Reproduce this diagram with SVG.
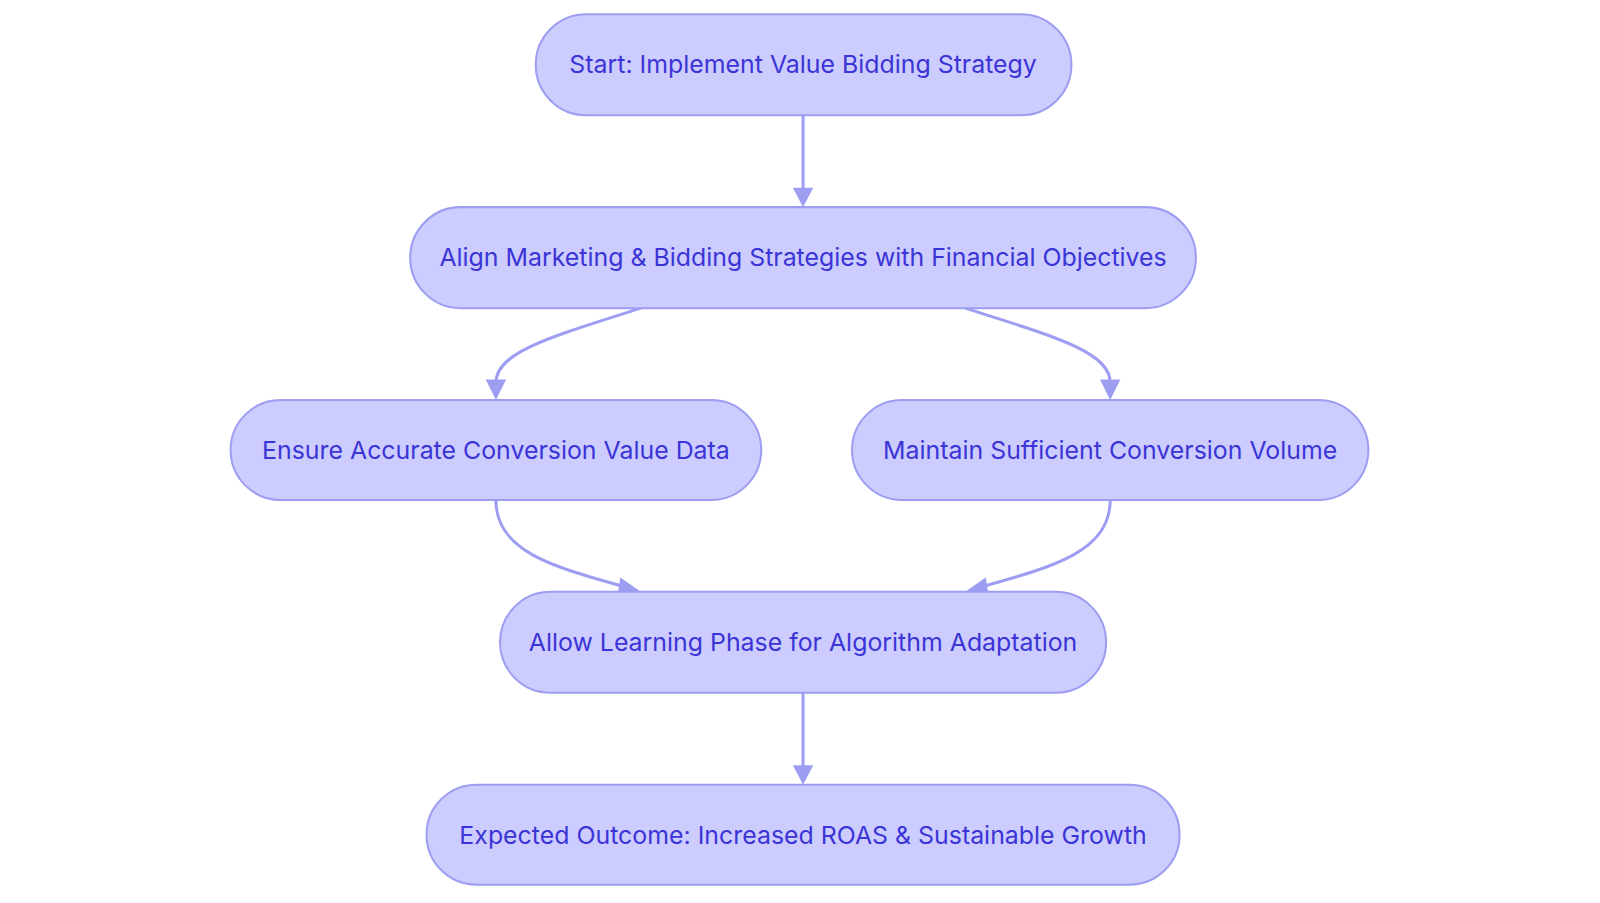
<svg xmlns="http://www.w3.org/2000/svg" width="1600" height="903" viewBox="0 0 1600 903">
<style>
.n{fill:#ccccff;stroke:#9d9df2;stroke-width:2}
.t{font-family:Inter,"Noto Sans",sans-serif;font-size:24.4px;fill:#3b34d6;text-anchor:middle;dominant-baseline:central}
.c{fill:none;stroke:#9d9df2;stroke-width:3}
.h{fill:#9d9df2}
</style>
<rect width="1600" height="903" fill="#fff"/>
<g transform="scale(1.0204)">
<g id="connectors">
<path class="c" d="M787,113V186"/>
<path class="h" d="M777,184L787,203L797,184z"/>
<path class="c" d="M628,302C540,330 486,345 486,375"/>
<path class="h" d="M476,372L486,392L496,372z"/>
<path class="c" d="M946,302C1034,330 1088,345 1088,375"/>
<path class="h" d="M1078,372L1088,392L1098,372z"/>
<path class="c" d="M486,490C486,540 540,555 612,575"/>
<path class="h" d="M608,566L628,580L605,584z"/>
<path class="c" d="M1088,490C1088,540 1034,555 962,575"/>
<path class="h" d="M966,566L946,580L969,584z"/>
<path class="c" d="M787,679V752"/>
<path class="h" d="M777,750L787,769L797,750z"/>
</g>
<g id="n1"><rect class="n" x="525" y="14" width="525" height="99" rx="49.5"/><text class="t" x="787" y="63">Start: Implement Value Bidding Strategy</text></g>
<g id="n2"><rect class="n" x="402" y="203" width="770" height="99" rx="49.5"/><text class="t" x="787" y="252">Align Marketing &amp; Bidding Strategies with Financial Objectives</text></g>
<g id="n3"><rect class="n" x="226" y="392" width="520" height="98" rx="49"/><text class="t" x="486" y="441">Ensure Accurate Conversion Value Data</text></g>
<g id="n4"><rect class="n" x="835" y="392" width="506" height="98" rx="49"/><text class="t" x="1088" y="441">Maintain Sufficient Conversion Volume</text></g>
<g id="n5"><rect class="n" x="490" y="580" width="594" height="99" rx="49.5"/><text class="t" x="787" y="629">Allow Learning Phase for Algorithm Adaptation</text></g>
<g id="n6"><rect class="n" x="418" y="769" width="738" height="98" rx="49"/><text class="t" x="787" y="818">Expected Outcome: Increased ROAS &amp; Sustainable Growth</text></g>
</g>
</svg>
